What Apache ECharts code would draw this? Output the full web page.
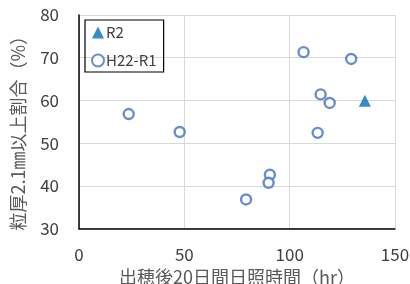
<!DOCTYPE html>
<html><head><meta charset="utf-8">
<script src="https://cdn.jsdelivr.net/npm/echarts@6/dist/echarts.min.js"></script>
<style>html,body{margin:0;padding:0;background:#fff}#c{width:410px;height:284px}</style>
</head><body><div id="c"></div>
<script>
const r2X = [135.7];
const r2Y = [59.9];
const histX = [23.6, 47.8, 106.6, 129.2, 114.7, 119.0, 113.3, 90.6, 90.0, 79.3];
const histY = [56.8, 52.6, 71.3, 69.7, 61.4, 59.4, 52.4, 42.6, 40.7, 36.8];
const xTitle = '出穂後20日間日照時間（hr）';
const yTitle = '粒厚2.1㎜以上割合（%）';
const font = '"Noto Sans CJK JP", "Noto Sans", sans-serif';
const chart = echarts.init(document.getElementById('c'));
chart.setOption({
  animation: false,
  grid: {left: 79, right: 15, top: 15, bottom: 55.5, containLabel: false, outerBoundsMode: 'none'},
  legend: {
    left: 85, top: 20, orient: 'vertical', itemGap: 13, itemWidth: 12, itemHeight: 12,
    padding: [5, 7, 4, 6], borderColor: '#000', borderWidth: 1.2,
    textStyle: {fontFamily: font, fontSize: 15, color: '#404040', padding: [0,0,0,-3]},
    data: [{name: 'R2', icon: 'triangle'}, {name: 'H22-R1', icon: 'circle'}]
  },
  xAxis: {
    type: 'value', min: 0, max: 150, interval: 50,
    name: xTitle, nameLocation: 'middle', nameGap: 35,
    nameTextStyle: {fontFamily: font, fontSize: 18, color: '#595959'},
    axisLine: {lineStyle: {color: '#000', width: 1.5}},
    axisTick: {show: false},
    axisLabel: {fontFamily: font, fontSize: 17, color: '#404040', margin: 18},
    splitLine: {lineStyle: {color: '#d9d9d9'}}
  },
  yAxis: {
    type: 'value', min: 30, max: 80, interval: 10,
    name: yTitle, nameLocation: 'middle', nameGap: 52, nameRotate: 90,
    nameTextStyle: {fontFamily: font, fontSize: 18, color: '#595959', padding: [0, 14, 0, 0]},
    axisLine: {show: true, lineStyle: {color: '#000', width: 1.5}},
    axisTick: {show: false},
    axisLabel: {fontFamily: font, fontSize: 17, color: '#404040', margin: 20},
    splitLine: {lineStyle: {color: '#d9d9d9'}}
  },
  series: [
    {name: 'H22-R1', type: 'scatter', symbol: 'circle', symbolSize: 10,
     itemStyle: {color: '#fff', borderColor: '#4472C4', borderWidth: 2.4},
     data: histX.map((x, i) => [x, histY[i]])},
    {name: 'R2', type: 'scatter', symbol: 'triangle', symbolSize: 12,
     itemStyle: {color: '#0070C0'},
     data: r2X.map((x, i) => [x, r2Y[i]])}
  ]
});
</script></body></html>
